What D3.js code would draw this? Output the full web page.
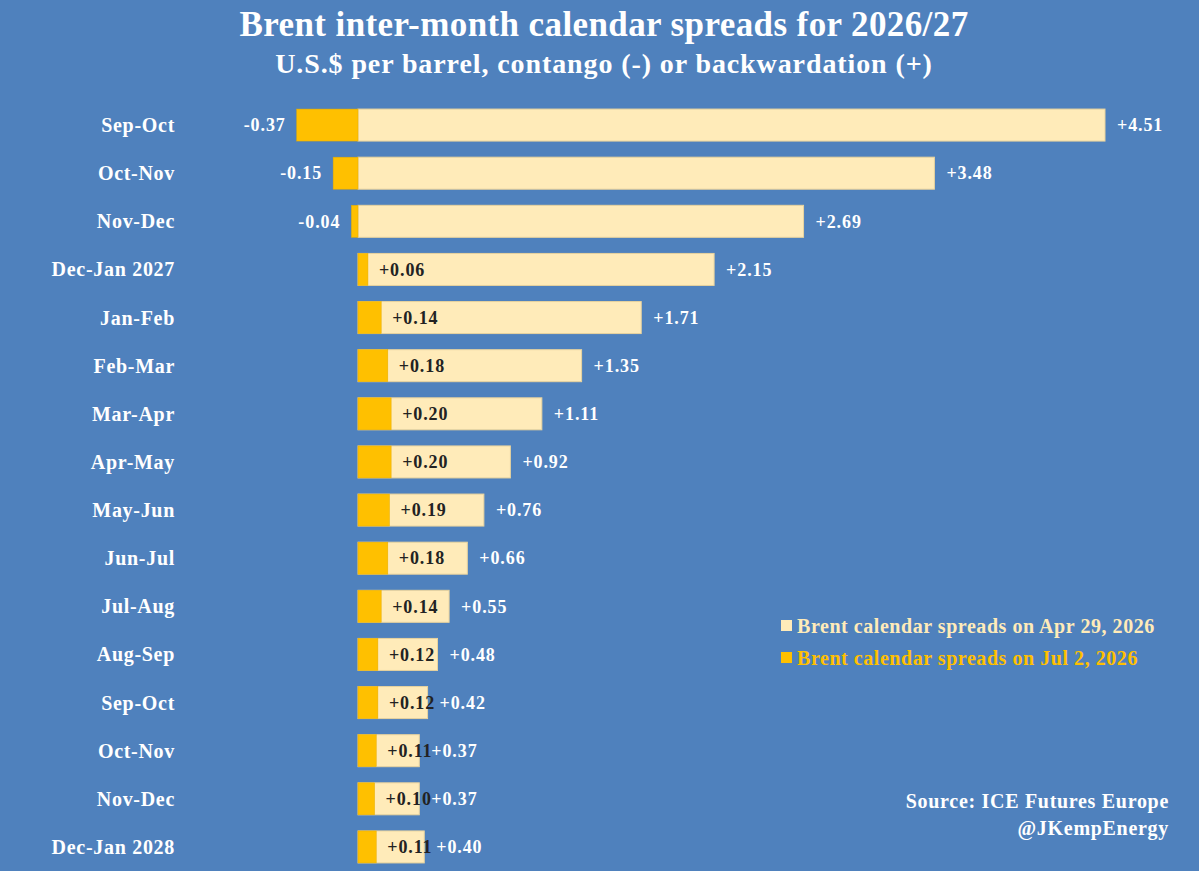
<!DOCTYPE html>
<html><head><meta charset="utf-8">
<script src="https://cdn.jsdelivr.net/npm/d3@7"></script>
<style>body{margin:0;background:#4F81BD;}svg{display:block;}</style>
</head><body>
<script>
const categories = ["Sep-Oct","Oct-Nov","Nov-Dec","Dec-Jan 2027","Jan-Feb","Feb-Mar","Mar-Apr","Apr-May","May-Jun","Jun-Jul","Jul-Aug","Aug-Sep","Sep-Oct ","Oct-Nov ","Nov-Dec ","Dec-Jan 2028"];
const spreadsApr29 = [4.51,3.48,2.69,2.15,1.71,1.35,1.11,0.92,0.76,0.66,0.55,0.48,0.42,0.37,0.37,0.40];
const spreadsJul2 = [-0.37,-0.15,-0.04,0.06,0.14,0.18,0.20,0.20,0.19,0.18,0.14,0.12,0.12,0.11,0.10,0.11];
const seriesNames = ["Brent calendar spreads on Apr 29, 2026","Brent calendar spreads on Jul 2, 2026"];

const W=1199,H=871;
const BG="#4F81BD", CREAM="#FFEBB9", GOLD="#FFC000";
const FONT="'Liberation Serif','Times New Roman',serif";
const svg=d3.select("body").append("svg").attr("width",W).attr("height",H);
svg.append("rect").attr("width",W).attr("height",H).attr("fill",BG);

const x=d3.scaleLinear().domain([0,4.51]).range([358,1105]);
const y=d3.scaleBand().domain(categories).range([101,871]).paddingInner(0.335).paddingOuter(0.1675);
const fmt=v=>(v>=0?"+":"")+v.toFixed(2);

svg.append("text").attr("x",604).attr("y",36).attr("text-anchor","middle").attr("fill","#fff")
  .attr("font-family",FONT).attr("font-weight","bold").attr("font-size",35).attr("letter-spacing",0.4).text("Brent inter-month calendar spreads for 2026/27");
svg.append("text").attr("x",604).attr("y",73).attr("text-anchor","middle").attr("fill","#fff")
  .attr("font-family",FONT).attr("font-weight","bold").attr("font-size",28).attr("letter-spacing",0.9).text("U.S.$ per barrel, contango (-) or backwardation (+)");

// category axis labels
const yAxis=d3.axisLeft(y).tickSize(0).tickPadding(0);
const ga=svg.append("g").attr("transform","translate(175,0)").call(yAxis);
ga.select(".domain").remove();
ga.selectAll("text").attr("fill","#fff").attr("font-family",FONT).attr("font-weight","bold").attr("font-size",20).attr("letter-spacing",0.7).attr("dy","0.35em");

const rows=categories.map((c,i)=>({c,a:spreadsApr29[i],j:spreadsJul2[i]}));
const g=svg.append("g");
g.selectAll("rect.apr").data(rows).join("rect").attr("class","apr")
  .attr("x",d=>x(Math.min(0,d.a))).attr("width",d=>Math.abs(x(d.a)-x(0)))
  .attr("y",d=>y(d.c)).attr("height",y.bandwidth()).attr("fill",CREAM).attr("stroke","#E8D39E").attr("stroke-width",1);
g.selectAll("rect.jul").data(rows).join("rect").attr("class","jul")
  .attr("x",d=>x(Math.min(0,d.j))).attr("width",d=>Math.abs(x(d.j)-x(0)))
  .attr("y",d=>y(d.c)).attr("height",y.bandwidth()).attr("fill",GOLD).attr("stroke","#E6AD00").attr("stroke-width",0.5);

g.selectAll("text.alab").data(rows).join("text").attr("class","alab")
  .attr("x",d=>x(d.a)+12).attr("y",d=>y(d.c)+y.bandwidth()/2).attr("dy","0.35em")
  .attr("fill","#fff").attr("font-family",FONT).attr("font-weight","bold").attr("font-size",18).attr("letter-spacing",0.9).text(d=>fmt(d.a));
g.selectAll("text.jlab").data(rows).join("text").attr("class","jlab")
  .attr("x",d=>d.j<0?x(d.j)-11:x(d.j)+11).attr("text-anchor",d=>d.j<0?"end":"start")
  .attr("y",d=>y(d.c)+y.bandwidth()/2).attr("dy","0.35em")
  .attr("fill",d=>d.j<0?"#fff":"#222").attr("font-family",FONT).attr("font-weight","bold").attr("font-size",18).attr("letter-spacing",0.9).text(d=>fmt(d.j));

// legend
const leg=svg.append("g");
[[CREAM,626],[GOLD,658]].forEach(([c,yy],i)=>{
  leg.append("rect").attr("x",781).attr("y",yy-6).attr("width",11).attr("height",11).attr("fill",c);
  leg.append("text").attr("x",797).attr("y",yy).attr("dy","0.35em").attr("fill",c)
    .attr("font-family",FONT).attr("font-weight","bold").attr("font-size",20).attr("letter-spacing",0.55).text(seriesNames[i]);
});
svg.append("text").attr("x",1169).attr("y",808).attr("text-anchor","end").attr("fill","#fff")
  .attr("font-family",FONT).attr("font-weight","bold").attr("font-size",20).attr("letter-spacing",0.7).text("Source: ICE Futures Europe");
svg.append("text").attr("x",1169).attr("y",835).attr("text-anchor","end").attr("fill","#fff")
  .attr("font-family",FONT).attr("font-weight","bold").attr("font-size",20).attr("letter-spacing",0.7).text("@JKempEnergy");
</script>
</body></html>
